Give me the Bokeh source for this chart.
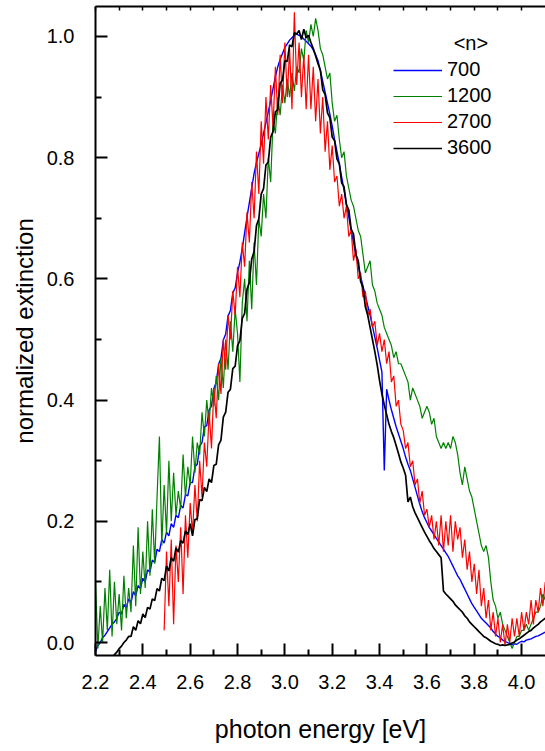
import numpy as np
from bokeh.plotting import figure
from bokeh.models import (Range1d, LinearAxis, FixedTicker, PrintfTickFormatter,
                          Legend, LegendItem, Label, Grid)
from bokeh.embed import file_html
from bokeh.resources import INLINE

# ---------------- data (photon energy grid step 0.01 eV) ----------------
E_STEP = 0.01

start_700 = 2.20
n700 = [
    -0.015, -0.005, 0.000, 0.008, 0.012, 0.018, 0.024, 0.030, 0.034, 0.040,
    0.050, 0.047, 0.063, 0.057, 0.072, 0.066, 0.084, 0.077, 0.094, 0.089,
    0.106, 0.100, 0.120, 0.116, 0.136, 0.132, 0.154, 0.150, 0.170, 0.164,
    0.182, 0.176, 0.196, 0.190, 0.210, 0.206, 0.226, 0.222, 0.244, 0.242,
    0.264, 0.264, 0.290, 0.294, 0.324, 0.330, 0.356, 0.358, 0.384, 0.390,
    0.419, 0.429, 0.459, 0.469, 0.499, 0.509, 0.539, 0.548, 0.577, 0.585,
    0.610, 0.628, 0.650, 0.676, 0.702, 0.726, 0.750, 0.774, 0.792, 0.807,
    0.822, 0.840, 0.858, 0.876, 0.894, 0.914, 0.934, 0.950, 0.962, 0.972,
    0.982, 0.988, 0.994, 0.998, 1.002, 1.004, 1.002, 1.000, 0.996, 0.992,
    0.988, 0.984, 0.978, 0.970, 0.960, 0.944, 0.926, 0.908, 0.890, 0.872,
    0.852, 0.830, 0.810, 0.790, 0.768, 0.746, 0.724, 0.702, 0.680, 0.660,
    0.640, 0.622, 0.604, 0.588, 0.572, 0.556, 0.540, 0.522, 0.504, 0.486,
    0.466, 0.446, 0.284, 0.418, 0.400, 0.384, 0.370, 0.356, 0.344, 0.332,
    0.320, 0.306, 0.294, 0.284, 0.270, 0.256, 0.242, 0.228, 0.216, 0.206,
    0.198, 0.190, 0.184, 0.178, 0.172, 0.166, 0.160, 0.154, 0.148, 0.142,
    0.134, 0.126, 0.118, 0.110, 0.104, 0.096, 0.088, 0.080, 0.072, 0.064,
    0.058, 0.052, 0.046, 0.040, 0.036, 0.032, 0.028, 0.024, 0.018, 0.014,
    0.010, 0.008, 0.004, 0.002, 0.000, -0.002, -0.004, -0.002, -0.003, 0.000,
    0.002, 0.001, 0.004, 0.005, 0.006, 0.008, 0.010, 0.011, 0.013, 0.015,
    0.017,
]

start_1200 = 2.20
n1200 = [
    0.10, -0.01, 0.06, 0.00, 0.09, 0.02, 0.12, 0.01, 0.10, 0.03,
    0.08, 0.02, 0.11, 0.04, 0.09, 0.05, 0.16, 0.06, 0.19, 0.08,
    0.15, 0.09, 0.20, 0.11, 0.22, 0.13, 0.24, 0.34, 0.16, 0.26,
    0.18, 0.30, 0.20, 0.28, 0.21, 0.25, 0.22, 0.31, 0.24, 0.29,
    0.26, 0.34, 0.28, 0.33, 0.31, 0.38, 0.34, 0.40, 0.36, 0.42,
    0.39, 0.44, 0.40, 0.47, 0.42, 0.50, 0.45, 0.53, 0.48, 0.55,
    0.51, 0.43, 0.56, 0.60, 0.53, 0.63, 0.55, 0.66, 0.59, 0.70,
    0.67, 0.74, 0.70, 0.80, 0.76, 0.86, 0.84, 0.90, 0.87, 0.92,
    0.89, 0.93, 0.90, 0.94, 0.91, 0.95, 0.94, 0.98, 0.96, 1.01,
    0.99, 1.02, 1.00, 1.03, 1.01, 0.98, 0.97, 0.95, 0.93, 0.94,
    0.89, 0.86, 0.87, 0.83, 0.80, 0.81, 0.77, 0.75, 0.73, 0.72,
    0.70, 0.68, 0.67, 0.64, 0.61, 0.62, 0.63, 0.59, 0.58, 0.56,
    0.55, 0.54, 0.52, 0.51, 0.50, 0.49, 0.47, 0.48, 0.46, 0.46,
    0.45, 0.44, 0.43, 0.40, 0.42, 0.41, 0.40, 0.39, 0.37, 0.38,
    0.39, 0.38, 0.36, 0.37, 0.34, 0.33, 0.32, 0.33, 0.32, 0.33,
    0.32, 0.34, 0.33, 0.31, 0.28, 0.26, 0.29, 0.27, 0.25, 0.24,
    0.22, 0.20, 0.18, 0.16, 0.15, 0.16, 0.14, 0.10, 0.07, 0.06,
    0.04, 0.05, 0.03, 0.02, 0.01, 0.00, -0.01, 0.00, 0.01, 0.01,
    0.02, 0.02, 0.03, 0.02, 0.03, 0.04, 0.05, 0.05, 0.06, 0.08,
    0.07,
]

start_2700 = 2.49
n2700 = [
    0.02,
    0.15, 0.06, 0.17, 0.03, 0.16, 0.10, 0.19, 0.08, 0.21, 0.14,
    0.23, 0.18, 0.26, 0.20, 0.30, 0.24, 0.33, 0.29, 0.38, 0.32,
    0.42, 0.37, 0.46, 0.41, 0.50, 0.45, 0.54, 0.50, 0.58, 0.54,
    0.62, 0.57, 0.66, 0.62, 0.71, 0.66, 0.76, 0.70, 0.81, 0.74,
    0.86, 0.79, 0.90, 0.83, 0.92, 0.85, 0.95, 0.87, 0.97, 0.89,
    0.99, 0.90, 0.98, 0.88, 1.04, 0.92, 0.99, 0.90, 0.97, 0.88,
    0.97, 0.88, 0.95, 0.86, 0.93, 0.84, 0.90, 0.81, 0.86, 0.78,
    0.82, 0.76, 0.77, 0.72, 0.74, 0.70, 0.72, 0.67, 0.68, 0.63,
    0.65, 0.60, 0.61, 0.57, 0.58, 0.54, 0.55, 0.52, 0.53, 0.49,
    0.51, 0.48, 0.50, 0.46, 0.48, 0.43, 0.44, 0.39, 0.40, 0.36,
    0.35, 0.32, 0.33, 0.29, 0.30, 0.26, 0.27, 0.23, 0.25, 0.21,
    0.22, 0.19, 0.21, 0.17, 0.20, 0.16, 0.21, 0.15, 0.20, 0.16,
    0.21, 0.15, 0.20, 0.17, 0.19, 0.14, 0.17, 0.12, 0.15, 0.10,
    0.13, 0.08, 0.12, 0.06, 0.09, 0.04, 0.07, 0.02, 0.05, 0.01,
    0.04, 0.00, 0.03, -0.005, 0.03, 0.00, 0.04, 0.01, 0.04, 0.01,
    0.05, 0.02, 0.05, 0.03, 0.07, 0.03, 0.07, 0.05, 0.09, 0.06,
    0.10,
]

start_3600 = 2.25
n3600 = [
    -0.040, -0.032, -0.026, -0.020, -0.016, -0.010, -0.006, 0.000, 0.004, 0.010,
    0.010, 0.026, 0.020, 0.036, 0.031, 0.047, 0.041, 0.058, 0.055, 0.072,
    0.069, 0.089, 0.085, 0.106, 0.102, 0.126, 0.118, 0.140, 0.134, 0.156,
    0.149, 0.168, 0.164, 0.184, 0.178, 0.196, 0.176, 0.203, 0.204, 0.236,
    0.234, 0.256, 0.249, 0.270, 0.264, 0.292, 0.294, 0.326, 0.334, 0.372,
    0.380, 0.413, 0.418, 0.452, 0.456, 0.490, 0.498, 0.535, 0.543, 0.583,
    0.594, 0.633, 0.645, 0.688, 0.699, 0.740, 0.749, 0.788, 0.793, 0.834,
    0.843, 0.876, 0.879, 0.923, 0.928, 0.960, 0.959, 0.986, 0.983, 1.006,
    1.004, 1.010, 0.995, 1.012, 0.998, 1.002, 0.990, 0.980, 0.968, 0.955,
    0.944, 0.912, 0.904, 0.874, 0.866, 0.834, 0.828, 0.798, 0.790, 0.758,
    0.752, 0.722, 0.714, 0.682, 0.674, 0.640, 0.630, 0.596, 0.586, 0.554,
    0.540, 0.520, 0.500, 0.480, 0.458, 0.432, 0.410, 0.392, 0.376, 0.360,
    0.348, 0.338, 0.325, 0.312, 0.298, 0.288, 0.276, 0.232, 0.240, 0.224,
    0.214, 0.206, 0.198, 0.190, 0.182, 0.175, 0.168, 0.162, 0.155, 0.150,
    0.145, 0.140, 0.085, 0.080, 0.076, 0.072, 0.068, 0.062, 0.058, 0.054,
    0.050, 0.044, 0.040, 0.034, 0.030, 0.026, 0.022, 0.018, 0.014, 0.010,
    0.008, 0.005, 0.002, 0.000, -0.002, -0.003, -0.005, -0.004, -0.005, -0.004,
    -0.003, -0.001, 0.001, 0.004, 0.006, 0.009, 0.012, 0.015, 0.018, 0.020,
    0.024, 0.027, 0.030, 0.034, 0.037, 0.040,
]

series_labels = ["700", "1200", "2700", "3600"]
legend_title = "<n>"

x_ticks = [2.2, 2.4, 2.6, 2.8, 3.0, 3.2, 3.4, 3.6, 3.8, 4.0]
x_minor = [2.3, 2.5, 2.7, 2.9, 3.1, 3.3, 3.5, 3.7, 3.9]
x_top = [2.2, 2.3, 2.4, 2.5, 2.6, 2.7, 2.8, 2.9, 3.0, 3.1, 3.2, 3.3, 3.4, 3.5,
         3.6, 3.7, 3.8, 3.9, 4.0]
y_ticks = [0.0, 0.2, 0.4, 0.6, 0.8, 1.0]
y_minor = [0.1, 0.3, 0.5, 0.7, 0.9]


def grid(start, vals):
    return np.round(start + E_STEP * np.arange(len(vals)), 3)


FONT = "Liberation Sans"

p = figure(width=545, height=750, output_backend="svg", toolbar_location=None,
           x_range=Range1d(2.2, 4.101), y_range=Range1d(-0.02145, 1.0495),
           x_axis_location="below", y_axis_location="left",
           min_border_left=95, min_border_right=0, min_border_top=6,
           min_border_bottom=95)
p.outline_line_color = None
p.center = [c for c in p.center if not isinstance(c, Grid)]


def style_axis(ax):
    ax.axis_line_color = "black"
    ax.axis_line_width = 2
    ax.major_tick_line_color = "black"
    ax.minor_tick_line_color = "black"
    ax.major_tick_line_width = 2
    ax.minor_tick_line_width = 2
    ax.major_tick_out = 0
    ax.minor_tick_out = 0
    ax.major_tick_in = 12
    ax.minor_tick_in = 6
    ax.major_label_text_font = FONT
    ax.major_label_text_font_size = "20px"
    ax.major_label_text_color = "black"
    ax.axis_label_text_font = FONT
    ax.axis_label_text_font_size = "25px"
    ax.axis_label_text_font_style = "normal"
    ax.axis_label_text_color = "black"


xaxis = p.xaxis[0]
xaxis.ticker = FixedTicker(ticks=x_ticks, minor_ticks=x_minor)
xaxis.formatter = PrintfTickFormatter(format="%.1f")
xaxis.axis_label = "photon energy [eV]"
style_axis(xaxis)
xaxis.major_label_standoff = 19
xaxis.axis_label_standoff = 23

yaxis = p.yaxis[0]
yaxis.ticker = FixedTicker(ticks=y_ticks, minor_ticks=y_minor)
yaxis.formatter = PrintfTickFormatter(format="%.1f")
yaxis.axis_label = "normalized extinction"
style_axis(yaxis)
yaxis.axis_label_text_font_size = "24px"
yaxis.major_label_standoff = 21
yaxis.axis_label_standoff = 6

top = LinearAxis(ticker=FixedTicker(ticks=[], minor_ticks=x_top))
style_axis(top)
top.minor_tick_in = 4
top.minor_tick_line_width = 1.5
top.major_label_standoff = 0
p.add_layout(top, "above")

r700 = p.line(grid(start_700, n700), n700, line_color="#0000ff", line_width=1.4)
r1200 = p.line(grid(start_1200, n1200), n1200, line_color="#008000", line_width=1.2)
r2700 = p.line(grid(start_2700, n2700), n2700, line_color="#ff0000", line_width=1.2)
r3600 = p.line(grid(start_3600, n3600), n3600, line_color="#000000", line_width=1.7)

legend = Legend(items=[LegendItem(label=lab, renderers=[r])
                       for lab, r in zip(series_labels, [r700, r1200, r2700, r3600])],
                location=(298, 496), padding=0, margin=0, spacing=3,
                glyph_width=49, glyph_height=20, label_height=20,
                label_standoff=5, label_text_font=FONT,
                label_text_font_size="20px", label_text_color="black",
                border_line_alpha=0, background_fill_alpha=0)
p.add_layout(legend)

p.add_layout(Label(x=3.786, y=0.989, text=legend_title, text_align="center",
                   text_baseline="middle", text_font=FONT,
                   text_font_size="20px", text_color="black"))

open("out.html", "w").write(file_html(p, INLINE))
